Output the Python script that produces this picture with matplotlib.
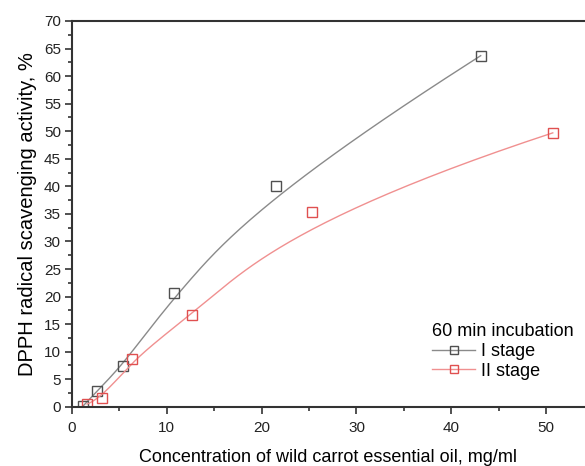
import matplotlib
matplotlib.use('Agg')
import matplotlib.pyplot as plt
import numpy as np
from matplotlib.ticker import MultipleLocator

plt.rcParams['font.family'] = ['Liberation Sans', 'DejaVu Sans']

# data
conc_1 = [1.2, 2.6, 5.4, 10.8, 21.5, 43.1]
act_1 = [0.2, 2.8, 7.4, 20.6, 40.0, 63.7]
conc_2 = [1.6, 3.2, 6.3, 12.7, 25.3, 50.7]
act_2 = [0.5, 1.6, 8.7, 16.7, 35.3, 49.7]


def bspline(px, py, k=3, n=300):
    # clamped uniform B-spline with the points as control points (Origin style)
    P = np.column_stack([px, py])
    m = len(P)
    inner = np.linspace(0, 1, m - k + 1)
    t = np.concatenate([np.zeros(k), inner, np.ones(k)])
    u = np.linspace(0, 1 - 1e-9, n)

    def N(i, d, u):
        if d == 0:
            return ((t[i] <= u) & (u < t[i + 1])).astype(float)
        a = np.zeros_like(u)
        b = np.zeros_like(u)
        if t[i + d] != t[i]:
            a = (u - t[i]) / (t[i + d] - t[i]) * N(i, d - 1, u)
        if t[i + d + 1] != t[i + 1]:
            b = (t[i + d + 1] - u) / (t[i + d + 1] - t[i + 1]) * N(i + 1, d - 1, u)
        return a + b

    B = np.array([N(i, k, u) for i in range(m)])
    C = B.T @ P
    C[-1] = P[-1]
    return C[:, 0], C[:, 1]


fig = plt.figure(figsize=(5.85, 4.66), dpi=100)
ax = fig.add_axes([0.123, 0.127, 0.877, 0.828])

grey_line = '#8a8a8a'
red_line = '#f09090'

for x, y, lc, mc, lab in [(conc_1, act_1, grey_line, '#505050', 'I stage'),
                          (conc_2, act_2, red_line, '#e05050', 'II stage')]:
    xs, ys = bspline(x, y)
    ax.plot(xs, ys, color=lc, lw=1)
    ax.plot(x, y, ls='none', marker='s', ms=6.5, mfc='none', mec=mc, mew=1)
    # legend proxy
    ax.plot([], [], color=lc, lw=1, marker='s', ms=5.5, mfc='none', mec=mc, label=lab)

ax.set_xlim(0, 54.1)
ax.set_ylim(0, 70)
ax.xaxis.set_major_locator(MultipleLocator(10))
ax.xaxis.set_minor_locator(MultipleLocator(5))
ax.yaxis.set_major_locator(MultipleLocator(5))
ax.yaxis.set_minor_locator(MultipleLocator(2.5))
ax.tick_params(which='major', direction='out', length=5, width=1.2, labelsize=11,
               colors='#333333', labelcolor='#222222', pad=3)
ax.tick_params(axis='x', which='major', pad=5)
ax.tick_params(which='minor', direction='out', length=3, width=1.2, colors='#333333')

ax.spines['right'].set_visible(False)
for s in ['left', 'bottom', 'top']:
    ax.spines[s].set_linewidth(1.5)
    ax.spines[s].set_color('#333333')

ax.set_xlabel('Concentration of wild carrot essential oil, mg/ml', fontsize=13, labelpad=10)
ax.set_ylabel('DPPH radical scavenging activity, %', fontsize=14.5, labelpad=5)

leg = ax.legend(title='60 min incubation', loc='lower right', frameon=False,
                fontsize=13, title_fontsize=13, handlelength=2.4, handletextpad=0.3,
                bbox_to_anchor=(0.978, 0.07), borderaxespad=0, labelspacing=0.15,
                borderpad=0)
leg._legend_box.align = 'left'

fig.savefig('out.png', dpi=100)
